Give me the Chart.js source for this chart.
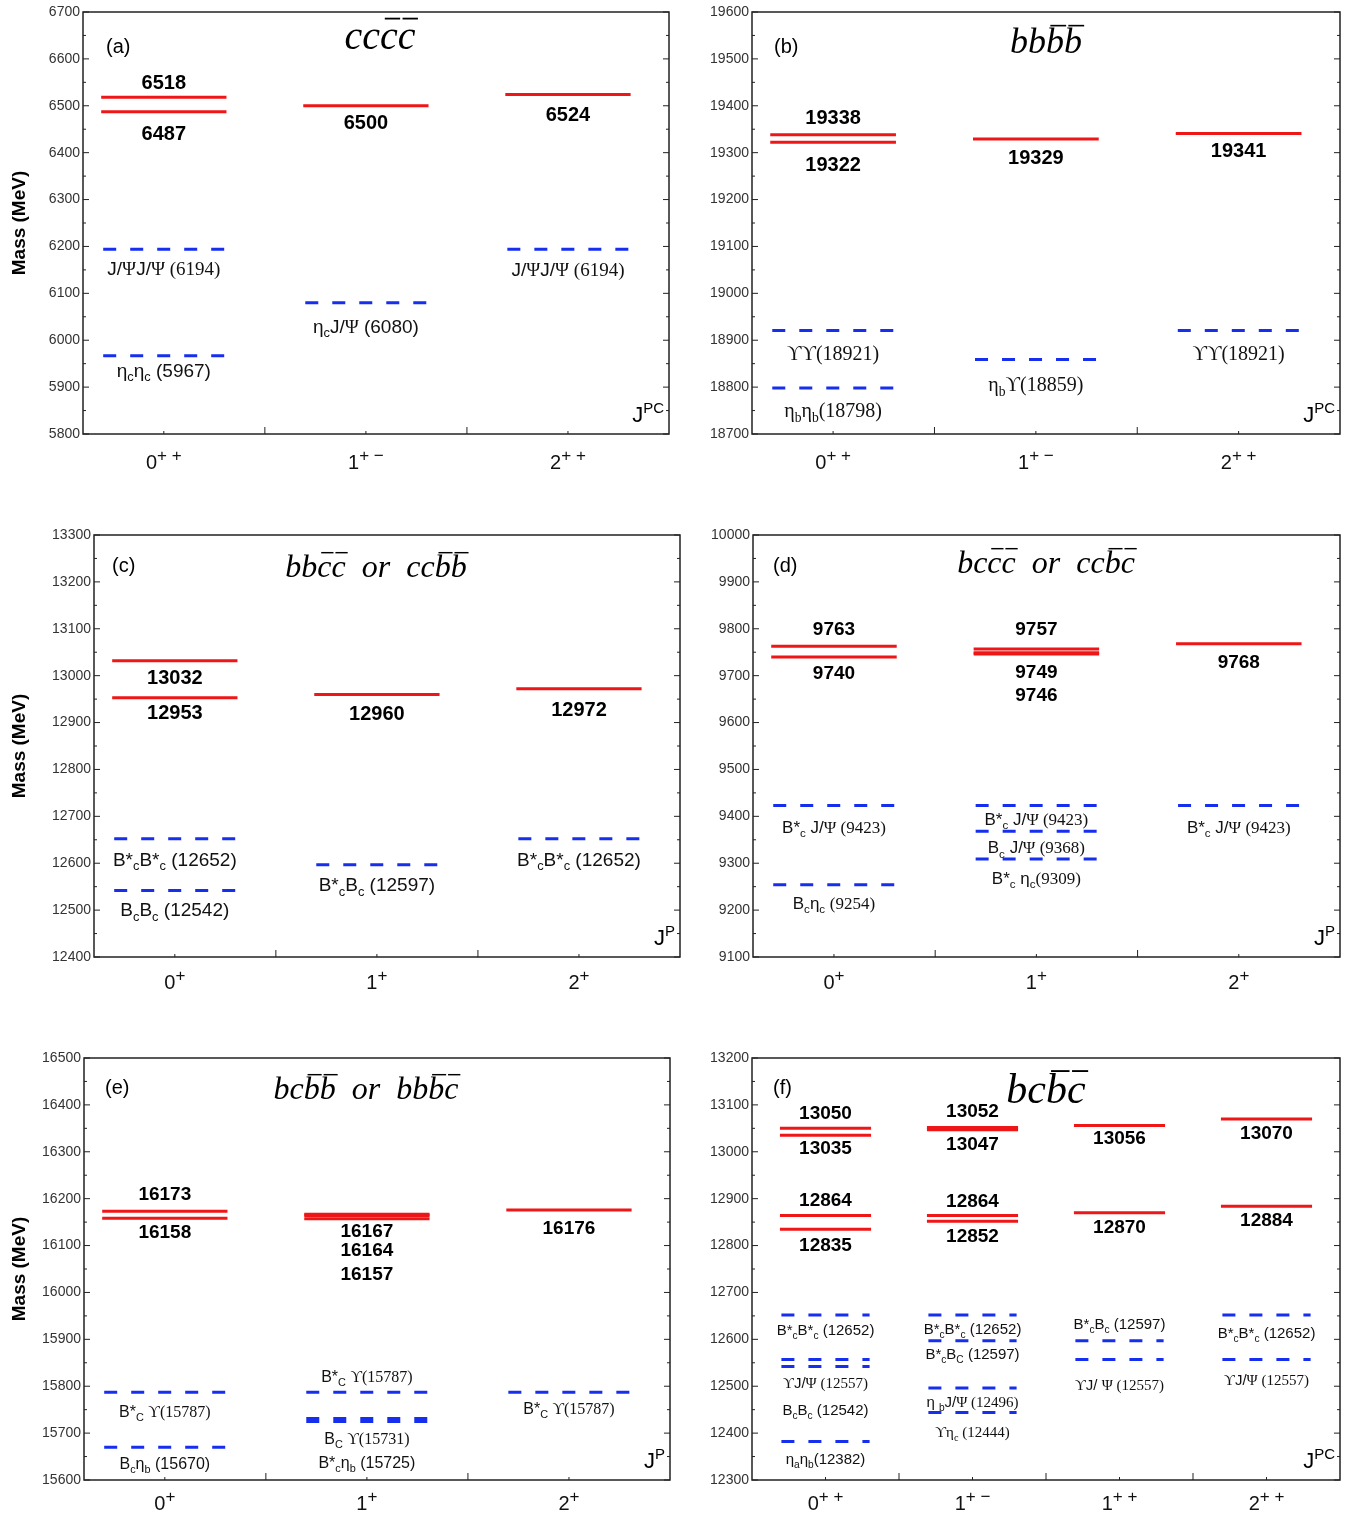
<!DOCTYPE html>
<html>
<head>
<meta charset="utf-8">
<script src="https://cdn.jsdelivr.net/npm/chart.js@4.4.0/dist/chart.umd.min.js"></script>
<style>
body { margin: 0; background: #fff; }
#wrap { position: relative; width: 1363px; height: 1518px; }
canvas { position: absolute; }
</style>
</head>
<body>
<div id="wrap"></div>
<script>
// (a) cc cbar cbar
var aCategories = ['0^{+ +}', '1^{+ −}', '2^{+ +}'];
var aMasses = [[6518, 6487], [6500], [6524]];
var aThresholds = [[6194, 5967], [6080], [6194]];
var aChannels = [['J/|Ψ|J/|Ψ ', 'η_cη_c '], ['η_cJ/|Ψ| '], ['J/|Ψ|J/|Ψ ']];
var aRange = [5800, 6700];

// (b) bb bbar bbar
var bCategories = ['0^{+ +}', '1^{+ −}', '2^{+ +}'];
var bMasses = [[19338, 19322], [19329], [19341]];
var bThresholds = [[18921, 18798], [18859], [18921]];
var bChannels = [['|ϒϒ', '|η_bη_b'], ['|η_bϒ'], ['|ϒϒ']];
var bRange = [18700, 19600];

// (c) bb cbar cbar  or  cc bbar bbar
var cCategories = ['0^{+}', '1^{+}', '2^{+}'];
var cMasses = [[13032, 12953], [12960], [12972]];
var cThresholds = [[12652, 12542], [12597], [12652]];
var cChannels = [['B*_cB*_c ', 'B_cB_c '], ['B*_cB_c '], ['B*_cB*_c ']];
var cRange = [12400, 13300];

// (d) bc cbar cbar  or  cc bbar cbar
var dCategories = ['0^{+}', '1^{+}', '2^{+}'];
var dMasses = [[9763, 9740], [9757, 9749, 9746], [9768]];
var dThresholds = [[9423, 9254], [9423, 9368, 9309], [9423]];
var dChannels = [['B*_c J/|Ψ ', 'B_cη_c |'], ['B*_c J/|Ψ ', 'B_c J/|Ψ ', 'B*_c η_c|'], ['B*_c J/|Ψ ']];
var dRange = [9100, 10000];

// (e) bc bbar bbar  or  bb bbar cbar
var eCategories = ['0^{+}', '1^{+}', '2^{+}'];
var eMasses = [[16173, 16158], [16167, 16164, 16157], [16176]];
var eThresholds = [[15787, 15670], [15787, 15731, 15725], [15787]];
var eChannels = [['B*_C |ϒ', 'B_cη_b '], ['B*_C |ϒ', 'B_C |ϒ', 'B*_cη_b '], ['B*_C |ϒ']];
var eRange = [15600, 16500];

// (f) bc bbar cbar
var fCategories = ['0^{+ +}', '1^{+ −}', '1^{+ +}', '2^{+ +}'];
var fMasses = [[13050, 13035, 12864, 12835], [13052, 13047, 12864, 12852], [13056, 12870], [13070, 12884]];
var fThresholds = [[12652, 12557, 12542, 12382], [12652, 12597, 12496, 12444], [12597, 12557], [12652, 12557]];
var fChannels = [['B*_cB*_c ', '|ϒ|J/|Ψ ', 'B_cB_c ', 'η_aη_b'],
                 ['B*_cB*_c ', 'B*_cB_C ', 'η _bJ/|Ψ ', '|ϒη_c '],
                 ['B*_cB_c ', '|ϒ|J/ |Ψ '],
                 ['B*_cB*_c ', '|ϒ|J/|Ψ ']];
var fRange = [12300, 13200];

// label offsets (px from the level line to the label centre)
var aMassDy = [[-16, 21], [16], [19]],  aThreshDy = [[19, 14], [23], [20]];
var bMassDy = [[-18, 21], [18], [16]],  bThreshDy = [[22, 22], [24], [22]];
var cMassDy = [[16, 14], [18], [20]],   cThreshDy = [[20, 19], [20], [20]];
var dMassDy = [[-18, 15], [-21, 18, 40], [17]], dThreshDy = [[21, 18], [13, 16, 19], [21]];
var eMassDy = [[-18, 13], [16, 34, 54], [17]], eThreshDy = [[19, 16], [-16, 20, 41], [16]];
var fMassDy = [[-16, 12, -16, 15], [-17, 13, -15, 14], [12, 13], [13, 13]];
var fThreshDy = [[15, 23, 43, 17], [14, 13, 14, 19], [-17, 25], [18, 20]];

var RED = 'rgb(238,22,22)';
var BLUE = 'rgb(22,46,238)';
var SANS = '"Liberation Sans", Arial, sans-serif';
var SERIF = '"Liberation Serif", "DejaVu Serif", serif';

Chart.defaults.font.family = SANS;

// tiny markup: _x / _{..} subscript, ^{..} superscript, | toggles serif, ~x overline
function parseRich(str) {
    var runs = [], serif = false, i = 0;
    while (i < str.length) {
        var ch = str[i];
        if (ch === '|') { serif = !serif; i++; continue; }
        if (ch === '_' || ch === '^') {
            var mode = ch === '_' ? 'sub' : 'sup', txt;
            i++;
            if (str[i] === '{') { var j = str.indexOf('}', i); txt = str.slice(i + 1, j); i = j + 1; }
            else { txt = str[i]; i++; }
            runs.push({t: txt, mode: mode, serif: serif});
            continue;
        }
        var bar = false;
        if (ch === '~') { bar = true; i++; ch = str[i]; }
        runs.push({t: ch, mode: 'n', serif: serif, bar: bar});
        i++;
    }
    return runs;
}

function runFont(r, o) {
    var s = r.mode === 'n' ? o.size : o.size * (o.small || 0.68);
    return (o.italic ? 'italic ' : '') + (o.bold ? 'bold ' : '') + s.toFixed(1) + 'px ' + (r.serif ? SERIF : SANS);
}

function drawRich(ctx, str, x, y, o) {
    var runs = parseRich(o.serif ? '|' + str : str);
    var total = 0;
    runs.forEach(function(r) { ctx.font = runFont(r, o); r.w = ctx.measureText(r.t).width; total += r.w; });
    var cx = o.align === 'left' ? x : (o.align === 'right' ? x - total : x - total / 2);
    ctx.textAlign = 'left';
    ctx.textBaseline = 'alphabetic';
    ctx.fillStyle = o.color || '#000';
    runs.forEach(function(r) {
        ctx.font = runFont(r, o);
        var dy = r.mode === 'sub' ? o.size * 0.25 : (r.mode === 'sup' ? -o.size * (o.supUp || 0.42) : 0);
        ctx.fillText(r.t, cx, y + dy);
        if (r.bar) {
            ctx.strokeStyle = o.color || '#000';
            ctx.lineWidth = Math.max(1.2, o.size * 0.045);
            ctx.beginPath();
            ctx.moveTo(cx + o.size * 0.12, y - o.size * 0.76);
            ctx.lineTo(cx + r.w + o.size * 0.06, y - o.size * 0.76);
            ctx.stroke();
        }
        cx += r.w;
    });
}

function seg(ctx, x1, y1, x2, y2) {
    ctx.beginPath(); ctx.moveTo(x1, y1); ctx.lineTo(x2, y2); ctx.stroke();
}

var panels = [
    {id: 'a', box: [0, 0, 690, 505], pad: {left: 38, top: 12, right: 21, bottom: 71}, range: aRange, xMin: -0.4, xMax: 2.5,
     cats: aCategories, masses: aMasses, thresholds: aThresholds, channels: aChannels, massDy: aMassDy, threshDy: aThreshDy,
     title: 'cc~c~c', titleSize: 40, titleX: 380, titleY: 49, letter: '(a)', letterX: 106, letterY: 53,
     jp: 'J^{PC}', yTitle: true, catY: 35, redSize: 20, blueSize: 19},
    {id: 'b', box: [680, 0, 683, 505], pad: {left: 27, top: 12, right: 23, bottom: 71}, range: bRange, xMin: -0.4, xMax: 2.5,
     cats: bCategories, masses: bMasses, thresholds: bThresholds, channels: bChannels, massDy: bMassDy, threshDy: bThreshDy,
     title: 'bb~b~b', titleSize: 36, titleX: 366, titleY: 53, letter: '(b)', letterX: 94, letterY: 53,
     jp: 'J^{PC}', yTitle: false, catY: 35, redSize: 20, blueSize: 20},
    {id: 'c', box: [0, 505, 690, 525], pad: {left: 49, top: 30, right: 10, bottom: 73}, range: cRange, xMin: -0.4, xMax: 2.5,
     cats: cCategories, masses: cMasses, thresholds: cThresholds, channels: cChannels, massDy: cMassDy, threshDy: cThreshDy,
     title: 'bb~c~c  or  cc~b~b', titleSize: 32, titleX: 376, titleY: 72, letter: '(c)', letterX: 112, letterY: 67,
     jp: 'J^{P}', yTitle: true, catY: 32, redSize: 20, blueSize: 19},
    {id: 'd', box: [680, 505, 683, 525], pad: {left: 28, top: 30, right: 23, bottom: 73}, range: dRange, xMin: -0.4, xMax: 2.5,
     cats: dCategories, masses: dMasses, thresholds: dThresholds, channels: dChannels, massDy: dMassDy, threshDy: dThreshDy,
     title: 'bc~c~c  or  cc~b~c', titleSize: 32, titleX: 366, titleY: 68, letter: '(d)', letterX: 93, letterY: 67,
     jp: 'J^{P}', yTitle: false, catY: 32, redSize: 19, blueSize: 17},
    {id: 'e', box: [0, 1030, 690, 488], pad: {left: 39, top: 28, right: 20, bottom: 38}, range: eRange, xMin: -0.4, xMax: 2.5,
     cats: eCategories, masses: eMasses, thresholds: eThresholds, channels: eChannels, massDy: eMassDy, threshDy: eThreshDy,
     title: 'bc~b~b  or  bb~b~c', titleSize: 32, titleX: 366, titleY: 69, letter: '(e)', letterX: 105, letterY: 64,
     jp: 'J^{P}', yTitle: true, catY: 30, redSize: 19, blueSize: 16},
    {id: 'f', box: [680, 1030, 683, 488], pad: {left: 27, top: 28, right: 23, bottom: 38}, range: fRange, xMin: -0.5, xMax: 3.5,
     cats: fCategories, masses: fMasses, thresholds: fThresholds, channels: fChannels, massDy: fMassDy, threshDy: fThreshDy,
     title: 'bc~b~c', titleSize: 42, titleX: 366, titleY: 73, letter: '(f)', letterX: 93, letterY: 64,
     jp: 'J^{PC}', yTitle: false, catY: 30, redSize: 19, blueSize: 15}
];

function levelSets(p) {
    var sets = [];
    p.masses.forEach(function(list, i) {
        list.forEach(function(m) {
            sets.push({data: [{x: i - 0.31, y: m}, {x: i + 0.31, y: m}], borderColor: RED, borderWidth: 3, pointRadius: 0});
        });
    });
    p.thresholds.forEach(function(list, i) {
        list.forEach(function(m) {
            sets.push({data: [{x: i - 0.3, y: m}, {x: i + 0.3, y: m}], borderColor: BLUE, borderWidth: 3,
                       borderDash: [13, 14], pointRadius: 0});
        });
    });
    return sets;
}

function decorPlugin(p) {
    return {
        id: 'decor' + p.id,
        afterDatasetsDraw: function(chart) {
            var ctx = chart.ctx, a = chart.chartArea, xs = chart.scales.x, ys = chart.scales.y;
            ctx.save();
            ctx.strokeStyle = '#222';
            ctx.lineWidth = 1.5;
            ctx.strokeRect(a.left, a.top, a.right - a.left, a.bottom - a.top);

            // inward ticks, majors every 100 and minors between
            ctx.lineWidth = 1;
            ys.ticks.forEach(function(t, k) {
                var y = ys.getPixelForValue(t.value);
                seg(ctx, a.left, y, a.left + 6, y);
                seg(ctx, a.right, y, a.right - 6, y);
                if (k < ys.ticks.length - 1) {
                    var ym = ys.getPixelForValue((t.value + ys.ticks[k + 1].value) / 2);
                    seg(ctx, a.left, ym, a.left + 3, ym);
                    seg(ctx, a.right, ym, a.right - 3, ym);
                }
            });

            p.cats.forEach(function(c, i) {
                var xc = xs.getPixelForValue(i);
                seg(ctx, xc, a.bottom, xc, a.bottom - 3);
                if (i < p.cats.length - 1) {
                    var xb = xs.getPixelForValue(i + 0.5);
                    seg(ctx, xb, a.bottom, xb, a.bottom - 7);
                }
                drawRich(ctx, c, xc, a.bottom + p.catY, {size: 20, small: 0.85, supUp: 0.38, color: '#111'});
            });

            // tetraquark masses
            p.masses.forEach(function(list, i) {
                list.forEach(function(m, j) {
                    var y = ys.getPixelForValue(m) + p.massDy[i][j] + 0.36 * p.redSize;
                    drawRich(ctx, String(m), xs.getPixelForValue(i), y, {size: p.redSize, bold: true});
                });
            });

            // meson-meson thresholds
            p.thresholds.forEach(function(list, i) {
                list.forEach(function(m, j) {
                    var y = ys.getPixelForValue(m) + p.threshDy[i][j] + 0.36 * p.blueSize;
                    drawRich(ctx, p.channels[i][j] + '(' + m + ')', xs.getPixelForValue(i), y, {size: p.blueSize, color: '#111'});
                });
            });

            drawRich(ctx, p.title, p.titleX, p.titleY, {size: p.titleSize, italic: true, serif: true});
            drawRich(ctx, p.letter, p.letterX, p.letterY, {size: 20, align: 'left'});
            drawRich(ctx, p.jp, a.right - 5, a.bottom - 12, {size: 22, small: 0.68, align: 'right'});

            if (p.yTitle) {
                ctx.save();
                ctx.translate(20, (a.top + a.bottom) / 2);
                ctx.rotate(-Math.PI / 2);
                ctx.font = 'bold 19px ' + SANS;
                ctx.fillStyle = '#000';
                ctx.textAlign = 'center';
                ctx.textBaseline = 'middle';
                ctx.fillText('Mass (MeV)', 0, 0);
                ctx.restore();
            }
            ctx.restore();
        }
    };
}

var wrap = document.getElementById('wrap');
panels.forEach(function(p) {
    var cv = document.createElement('canvas');
    cv.width = p.box[2];
    cv.height = p.box[3];
    cv.style.left = p.box[0] + 'px';
    cv.style.top = p.box[1] + 'px';
    wrap.appendChild(cv);

    new Chart(cv.getContext('2d'), {
        type: 'line',
        data: {datasets: levelSets(p)},
        options: {
            responsive: false,
            animation: false,
            events: [],
            layout: {padding: p.pad},
            plugins: {legend: {display: false}, tooltip: {enabled: false}},
            scales: {
                x: {type: 'linear', min: p.xMin, max: p.xMax, display: false},
                y: {
                    type: 'linear', min: p.range[0], max: p.range[1],
                    ticks: {stepSize: 100, color: '#333', padding: 3, font: {size: 14},
                            callback: function(v) { return String(v); }},
                    grid: {display: false, drawTicks: false},
                    border: {display: false},
                    afterFit: function(s) { s.width = 45; }
                }
            }
        },
        plugins: [decorPlugin(p)]
    });
});
</script>
</body>
</html>
